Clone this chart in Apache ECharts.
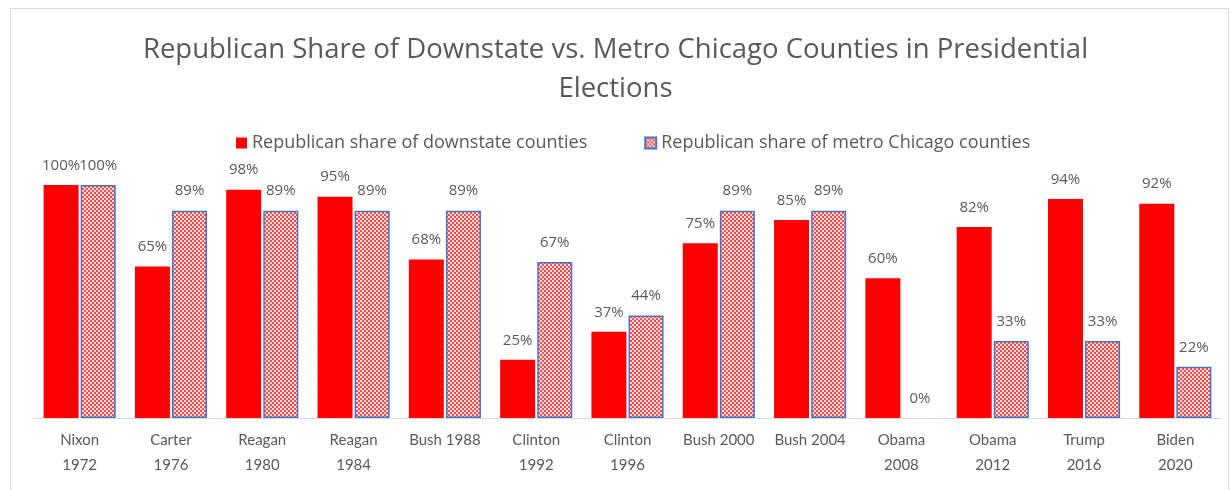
<!DOCTYPE html>
<html><head><meta charset="utf-8">
<script src="https://cdn.jsdelivr.net/npm/echarts@6/dist/echarts.min.js"></script>
<style>html,body{margin:0;padding:0;background:#fff}#c{width:1231px;height:490px}</style>
</head><body><div id="c"></div>
<script>
const categories = ['Nixon\n1972','Carter\n1976','Reagan\n1980','Reagan\n1984','Bush 1988','Clinton\n1992','Clinton\n1996','Bush 2000','Bush 2004','Obama\n2008','Obama\n2012','Trump\n2016','Biden\n2020'];
const downstate = [100,65,98,95,68,25,37,75,85,60,82,94,92];
const metro = [100,89,89,89,89,67,44,89,89,0,33,33,22];
const seriesNames = ['Republican share of downstate counties','Republican share of metro Chicago counties'];

const pc = document.createElement('canvas');
pc.width = 4; pc.height = 4;
const g = pc.getContext('2d');
g.fillStyle = '#ff4a4a'; g.fillRect(0,0,4,4);
g.fillStyle = '#ffd6d6';
g.fillRect(0,0,2,2); g.fillRect(2,2,2,2);
g.fillStyle = '#ffffff';
g.fillRect(0,0,1,1); g.fillRect(2,2,1,1);
const pattern = {image: pc, repeat: 'repeat'};

const font = 'Lato, "Open Sans", sans-serif';
const wide = '"Open Sans", Lato, sans-serif';
const chart = echarts.init(document.getElementById('c'), null, {renderer:'canvas'});
chart.setOption({
  animation: false,
  textStyle: {fontFamily: font},
  graphic: [{type:'rect', shape:{x:10.5,y:8.5,width:1218,height:490}, style:{fill:'none', stroke:'#d9d9d9', lineWidth:1}, silent:true}],
  title: {
    text: 'Republican Share of Downstate vs. Metro Chicago Counties in Presidential\nElections',
    left: 'center', top: 26,
    textStyle: {fontSize: 27.5, fontWeight: 'normal', color: '#595959', lineHeight: 39, fontFamily: wide}
  },
  legend: {
    top: 129, left: 231, itemGap: 57, itemWidth: 11, itemHeight: 11,
    icon: 'rect',
    textStyle: {fontSize: 18, color: '#595959', fontFamily: wide},
    data: seriesNames
  },
  grid: {left: 34, right: 10, top: 185, bottom: 72, containLabel: false},
  xAxis: {
    type: 'category', data: categories,
    axisLine: {lineStyle: {color: '#d9d9d9', width: 1}},
    axisTick: {show: false},
    axisLabel: {fontSize: 15, color: '#595959', lineHeight: 25, margin: 10, interval: 0, fontFamily: font}
  },
  yAxis: {type: 'value', min: 0, max: 100, show: false, splitLine: {show: false}},
  series: [
    {
      name: seriesNames[0], type: 'bar', data: downstate,
      barWidth: 35, barGap: '6%',
      itemStyle: {color: '#ff0000'},
      label: {show: true, position: 'top', distance: 12, formatter: '{c}%', fontSize: 15, color: '#595959', fontFamily: wide}
    },
    {
      name: seriesNames[1], type: 'bar',
      data: metro.map(v => v === 0 ? {value: v, itemStyle: {borderWidth: 0}} : v),
      barWidth: 35,
      itemStyle: {color: pattern, borderColor: '#4472c4', borderWidth: 1.5},
      label: {show: true, position: 'top', distance: 12, formatter: '{c}%', fontSize: 15, color: '#595959', fontFamily: wide}
    }
  ]
});
</script></body></html>
